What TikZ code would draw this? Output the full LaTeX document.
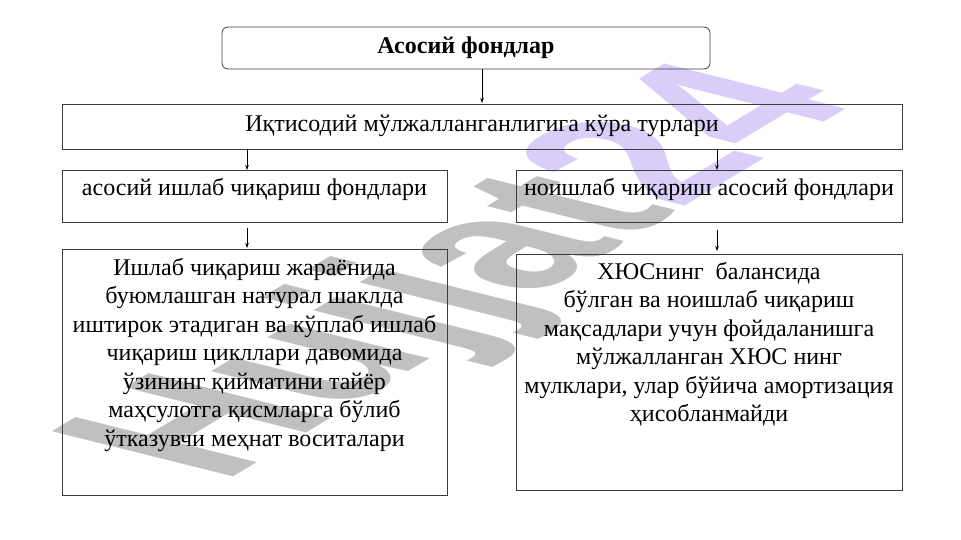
\documentclass[tikz,border=0pt]{standalone}
\usepackage{fontspec}
\setmainfont{Liberation Serif}
\newfontfamily\wmfont{Liberation Sans}
\usetikzlibrary{arrows.meta}
\definecolor{wmgray}{RGB}{192,192,192}
\definecolor{wmpurple}{RGB}{216,206,248}
\definecolor{edge}{RGB}{60,60,60}
\tikzset{
  box/.style={draw=edge, line width=0.8pt, inner sep=0pt},
  txt/.style={font=\fontsize{24}{28.5}\selectfont, align=center, inner sep=0pt},
  conn/.style={draw=black, line width=0.6pt, -{Stealth[length=5pt,width=3.5pt]}},
}
\begin{document}
\begin{tikzpicture}[x=1pt,y=-1pt]
\useasboundingbox (0,0) rectangle (961,540);
% watermark
\node[rotate=31, xslant=-1, anchor=base west, inner sep=0pt] (wm) at (222,484)
  {\wmfont\bfseries\fontsize{192}{192}\selectfont\textcolor{wmgray}{Hujjat}\textcolor{wmpurple}{24}};
% boxes
\draw[box, rounded corners=6pt] (222,27) rectangle (710,69);
\coordinate (topS) at (482,69);
\node[txt, font=\fontsize{24}{28}\selectfont\bfseries] (top) at (466,48) {Асосий фондлар};
\draw[box] (62,104) rectangle (902,149);
\coordinate (b2N) at (482,103);
\node[txt] (b2) at (482,126) {Иқтисодий мўлжалланганлигига кўра турлари};
\draw[box] (62,170) rectangle (447,222);
\draw[box] (516,170) rectangle (902,222);
\node[txt] (b3l) at (254.5,189) {асосий ишлаб чиқариш фондлари};
\node[txt] (b3r) at (709,189) {ноишлаб чиқариш асосий фондлари};
\coordinate (b2SL) at (247,149);
\coordinate (b2SR) at (717,149);
\coordinate (b3lN) at (247,170);
\coordinate (b3rN) at (717,170);
\coordinate (b3lS) at (247,228);
\coordinate (b3rS) at (717,230);
\draw[box] (62,249) rectangle (447,495);
\draw[box] (516,254) rectangle (902,490);
\coordinate (b4lN) at (247,248);
\coordinate (b4rN) at (717,251);
\node[txt, anchor=north] (b4l) at (254.5,258) {Ишлаб чиқариш жараёнида\\буюмлашган натурал шаклда\\иштирок этадиган ва кўплаб ишлаб\\чиқариш цикллари давомида\\ўзининг қийматини тайёр\\маҳсулотга қисмларга бўлиб\\ўтказувчи меҳнат воситалари};
\node[txt, anchor=north] (b4r) at (709,262) {ХЮСнинг\ \ балансида\\ бўлган ва ноишлаб чиқариш\\мақсадлари учун фойдаланишга\\мўлжалланган ХЮС нинг\\мулклари, улар бўйича амортизация\\ҳисобланмайди};
% connectors
\draw[conn] (topS) -- (b2N);
\draw[conn] (b2SL) -- (b3lN);
\draw[conn] (b2SR) -- (b3rN);
\draw[conn] (b3lS) -- (b4lN);
\draw[conn] (b3rS) -- (b4rN);
\end{tikzpicture}
\end{document}
